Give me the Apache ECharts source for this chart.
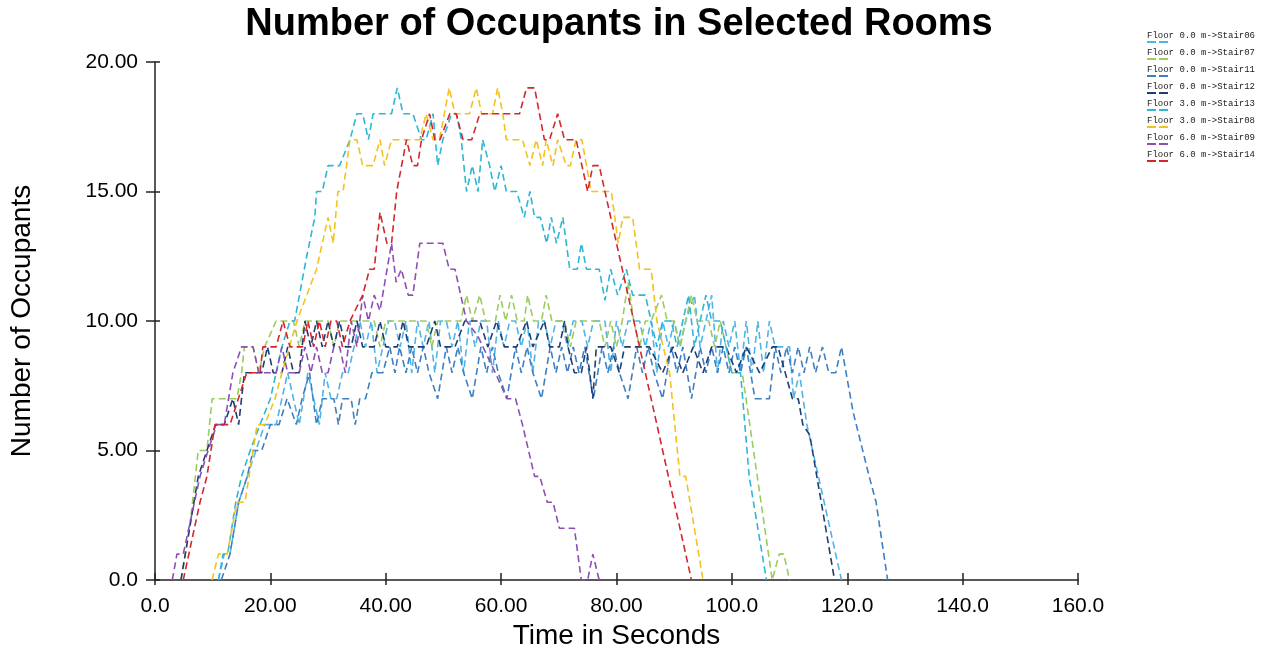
<!DOCTYPE html>
<html>
<head>
<meta charset="utf-8">
<script src="https://cdn.jsdelivr.net/npm/echarts@6/dist/echarts.min.js"></script>
<style>
html,body{margin:0;padding:0;background:#fff;}
#chart{width:1265px;height:651px;}
</style>
</head>
<body>
<div id="chart"></div>
<script>
const titleText = 'Number of Occupants in Selected Rooms';
const xAxisName = 'Time in Seconds';
const yAxisName = 'Number of Occupants';
const xTickLabels = ['0.0','20.00','40.00','60.00','80.00','100.0','120.0','140.0','160.0'];
const yTickLabels = ['0.0','5.00','10.00','15.00','20.00'];

const seriesNames = [
  'Floor 0.0 m->Stair06','Floor 0.0 m->Stair07','Floor 0.0 m->Stair11','Floor 0.0 m->Stair12',
  'Floor 3.0 m->Stair13','Floor 3.0 m->Stair08','Floor 6.0 m->Stair09','Floor 6.0 m->Stair14'
];
const seriesColors = ['#4fb4e6','#9ccb5e','#3d7fc1','#1f3d72','#2db7d6','#f4c21c','#8d4fb3','#d5262c'];

// [time (s), occupants]
const stair06 = [[11,0],[12,1],[13,1],[14.5,3],[16,4],[17.5,5],[19,6],[21,6],[22,7],[23,8],[24,7],[25,6],[26.5,8],[27.5,7],[28.5,6],[29.5,8],[30.5,7],[31.5,7],[32.5,8],[33.5,8],[34.5,9],[35.5,10],[36.5,9],[37.5,10],[38.5,8],[39.5,9],[40.5,10],[41.5,10],[42.5,9],[43.5,10],[44.5,8],[45.5,10],[46.5,9],[47.5,10],[48.5,8],[49.5,10],[50.5,10],[51.5,9],[52.5,10],[53.5,8],[54.5,10],[55.5,9],[56.5,10],[57.5,10],[58.5,8],[59.5,10],[60.5,9],[61.5,10],[62.5,10],[63.5,9],[64.5,10],[65.5,8],[66.5,10],[67.5,10],[68.5,9],[69.5,10],[70.5,10],[71.5,9],[72.5,10],[74,10],[75,9],[76,10],[78,10],[79,8],[80,10],[81,9],[82,10],[84,10],[85,9],[86,10],[87,8],[88,10],[89,9],[90,10],[91,9],[92,10],[93.5,11],[94.5,9],[95.5,10],[96.5,11],[97.5,8],[98.5,10],[99.5,9],[100.5,10],[101.5,8],[102.5,10],[103.5,8],[104.5,10],[105.5,8],[106.5,10],[107.5,9],[110,9],[110.7,7],[111.7,8],[113,6],[115,4],[117,2],[119,0]];
const stair07 = [[4.5,0],[6,2],[7.5,5],[9,5],[9.9,7],[14.2,7],[15,8],[15.5,9],[17,9],[18,8],[19,9],[21,10],[24,10],[25,9],[26,10],[30,10],[31,9],[32,10],[38,10],[39,9],[40,10],[47,10],[48,9],[49,10],[53,10],[54,11],[55,10],[56.3,11],[57.3,10],[59,10],[59.8,11],[60.8,10],[61.8,11],[62.8,10],[64,10],[64.6,11],[65.6,10],[67,10],[67.8,11],[68.8,10],[71,10],[72,9],[73,10],[77,10],[78,9],[79,10],[80,9],[81,10],[82,11.5],[83,10],[84,9],[85,10],[86,10],[87.8,11],[88.8,10],[90,10],[91,9],[92,10],[93,11],[94,10],[96,10],[97,9],[98,10],[99,9],[100,8],[101.8,8],[107,0],[108.2,1],[109,1],[110,0]];
const stair11 = [[11.5,0],[13,1],[14.5,3],[16,4],[17,5],[18.5,5],[20,6],[21.5,6],[22.9,7],[24.5,6],[25.5,7],[26.8,8],[28,6],[29,7],[31,7],[31.8,6],[32.5,7],[34,7],[34.7,6],[35.5,7],[36.5,7],[37.6,8],[39.5,8],[40.7,9],[41.6,8],[42.4,9],[43.5,8],[44.5,9],[45.5,8],[46.5,9],[47.5,8],[49,7],[50.5,9],[51.5,8],[52.5,9],[53.5,8],[55,7],[56.5,9],[57.5,8],[58.5,9],[59.5,8],[61,7],[62.5,9],[63.5,8],[64.5,9],[65.5,8],[67,7],[68.5,9],[69.5,8],[70.5,9],[71.5,8],[72.5,9],[73.5,8],[74.5,9],[76,7],[77.5,9],[78.5,8],[79.5,9],[80.5,8],[82,7],[83.5,9],[84.5,8],[85.5,9],[86.5,8],[88,7],[89.5,9],[90.5,8],[91.5,9],[93,7],[94.5,9],[95.5,8],[96.5,9],[97.5,8],[98.5,9],[99.5,8],[100.5,9],[101.5,8],[102.5,9],[104,7],[106.5,7],[107.5,9],[108.5,8],[109.5,9],[110.5,8],[111.5,9],[112.5,8],[113.5,9],[114.5,8],[115.7,9],[116.8,8],[118,8],[119,9],[121,6.5],[123.8,4],[125,3],[127,0]];
const stair12 = [[4.5,0],[6,2],[7.5,4],[9,5],[10.5,6],[12,6],[13.5,7],[14.5,6],[15.5,8],[17,8],[18.5,8],[19.5,9],[20.5,8],[22,8],[23,9],[24,8],[25,8],[26,10],[27,9],[28,10],[29,9],[30,10],[31,9],[32,10],[33,9],[34,9],[35,10],[36,9],[38,9],[39,10],[40,9],[42,9],[43,10],[44,9],[46,9],[47,9],[48.5,10],[49.5,9],[51,9],[52,9],[53.7,10],[56.3,10],[57.7,9],[59.2,10],[60.6,9],[62.7,9],[64.4,10],[65.5,9],[67.5,10],[68.4,9],[70.1,9],[71,10],[71.6,9],[72.7,8],[73.9,8],[74.8,9],[75.9,7],[76.5,9],[79,9],[80.5,8],[81.4,9],[85.7,9],[88,8],[89.8,9],[91.5,8],[93.3,9],[95,8],[96.5,9],[99,9],[100.8,8],[102.5,9],[104.8,8],[107,9],[108,9],[110.5,7],[111.5,7],[112.3,6],[113.5,5.6],[117.8,0]];
const stair13 = [[11,0],[11.8,1],[12.6,1],[14,3],[15,4],[16.5,5],[18.2,6],[20,7],[22,9],[23.4,10],[24.2,10],[26.3,12.5],[27.7,14],[28,15],[29,15],[30,16],[32,16],[33.8,17],[35,18],[36,18],[37,17],[37.8,18],[41,18],[42,19],[43,18],[44.7,18],[46.2,17],[47,17],[48.2,18],[49,16],[49.9,17],[51.4,18],[52.3,18],[53.1,17],[54,15],[55,16],[56,15],[56.8,17],[58,16],[58.9,15],[60,16],[60.9,15],[62.7,15],[64,14],[65,15],[65.8,14],[66.8,14],[67.9,13],[68.7,14],[69.6,13],[70.7,14],[71.9,12],[73.2,12],[73.9,13],[74.8,12],[77,12],[78,10.8],[79,12],[80.2,11],[81.7,12],[82.8,11],[85,11],[86,10],[87,9],[88,10],[89.5,10],[90.5,9],[91.5,10],[92.5,11],[93.5,9],[94.5,10],[95.5,11],[96.5,10],[98,10],[99,9],[100,8],[101.5,8],[103,4],[106,0]];
const stair08 = [[9.9,0],[11,1],[12.5,1],[14.2,3],[15.6,3],[17.7,6],[19,6],[20.8,7],[22,8],[24.6,10],[26.3,11],[28,12],[29,13],[30,14],[30.9,13],[31.7,15],[32.6,15],[33.8,17],[35,17],[36,16],[37.8,16],[39,17],[39.8,16],[41,17],[45.9,17],[47,18],[48.2,17],[49.3,17],[51,19],[52,18],[54.5,18],[55.7,19],[56.6,18],[58.5,18],[59.4,19],[60.3,18],[60.9,17],[63.7,17],[65,16],[66.1,17],[67.2,16],[67.8,17],[69,16],[69.8,17],[71.3,16],[72,16],[73,17],[74,17],[75.6,15],[79.1,15],[80.3,13],[81.1,14],[82.8,14],[84,12],[86,12],[87,10],[89.2,8],[91,4],[92,4],[95,0]];
const stair09 = [[3,0],[3.8,1],[4.9,1],[7.8,4],[9.2,5],[10.7,6],[12,6],[13.5,8],[15,9],[17,9],[18,8],[21,8],[22,9],[23,8],[25,8],[26,9],[27,8],[28,9],[29,8],[30,8],[31,9],[32,9],[33,8],[34,10],[35,9],[36,11],[37,10],[38,11],[39,10.4],[41,13],[41.8,11.5],[42.7,12],[43.9,11],[44.7,11],[45.9,13],[49.9,13],[51,12],[52,12],[54,10],[56,9.4],[59,8],[61,7],[62.5,7],[63.7,6],[65.8,4],[66.7,4],[68,3],[69,3],[70.1,2],[72.7,2],[73.9,0],[75,0],[75.9,1],[77,0]];
const stair14 = [[4.9,0],[7.8,3],[9,4],[10.4,6],[13,6],[15.9,8],[18.2,8],[18.7,9],[21,9],[22.2,10],[23.4,9],[25.6,9],[26.5,10],[27.5,9],[28.5,10],[29.5,9],[30.5,10],[31.5,10],[32.5,9],[33.8,10],[36,11],[37.2,12],[38,12],[39,14.2],[40.2,13],[41,13],[41.9,15],[43.6,17],[44.7,16],[45.5,16],[46.2,17],[47.6,18],[48.5,17],[49.4,17],[51.1,18],[52.2,18],[53.4,17],[54.9,17],[56.3,18],[63.2,18],[64.4,19],[65.8,19],[67.5,17],[68.4,17],[69.8,18],[71,17],[73,17],[75,15],[75.9,16],[77,16],[80,13],[93,0]];

const seriesData = [stair06, stair07, stair11, stair12, stair13, stair08, stair09, stair14];

const chart = echarts.init(document.getElementById('chart'), null, {renderer: 'canvas'});

const rich = {
  t: {fontFamily: 'Liberation Mono', fontSize: 9, color: '#222', lineHeight: 9},
  g: {width: 3, height: 2, lineHeight: 4}
};
seriesColors.forEach(function (c, i) {
  rich['d' + i] = {width: 9, height: 2, lineHeight: 4, backgroundColor: c};
});

const xLabelFmt = function (v) { return xTickLabels[Math.round(v / 20)] || ''; };
const yLabelFmt = function (v) { return yTickLabels[Math.round(v / 5)] || ''; };

const option = {
  animation: false,
  backgroundColor: '#fff',
  title: {
    text: titleText,
    left: 614,
    textAlign: 'center',
    top: 1,
    textStyle: {fontFamily: 'Liberation Sans', fontWeight: 'bold', fontSize: 38, color: '#000'}
  },
  legend: {
    orient: 'vertical',
    left: 1137,
    top: 26,
    icon: 'none',
    itemWidth: 0,
    itemHeight: 0,
    itemGap: 0,
    data: seriesNames,
    formatter: function (name) {
      const i = seriesNames.indexOf(name);
      return '{t|' + name + '}\n{d' + i + '|}{g|}{d' + i + '|}';
    },
    textStyle: {rich: rich}
  },
  grid: {left: 155, right: 187, top: 62, bottom: 71, containLabel: false, outerBoundsMode: 'none'},
  xAxis: [{
    type: 'value', min: 0, max: 160, interval: 20, position: 'bottom',
    name: xAxisName, nameLocation: 'middle', nameGap: 42,
    nameTextStyle: {fontFamily: 'Liberation Sans', fontSize: 28, color: '#000'},
    axisLine: {show: true, onZero: false, lineStyle: {color: '#222', width: 1.5}},
    axisTick: {show: true, inside: false, length: 5, lineStyle: {color: '#222', width: 1.5}},
    axisLabel: {formatter: xLabelFmt, margin: 16, fontFamily: 'Liberation Sans', fontSize: 21, color: '#000'},
    splitLine: {show: false}
  }, {
    type: 'value', min: 0, max: 160, interval: 20, position: 'bottom',
    axisLine: {show: false},
    axisTick: {show: true, inside: true, length: 7, lineStyle: {color: '#222', width: 1.5}},
    axisLabel: {show: false},
    splitLine: {show: false}
  }],
  yAxis: [{
    type: 'value', min: 0, max: 20, interval: 5, position: 'left',
    name: yAxisName, nameLocation: 'middle', nameGap: 119,
    nameTextStyle: {fontFamily: 'Liberation Sans', fontSize: 28, color: '#000'},
    axisLine: {show: true, onZero: false, lineStyle: {color: '#222', width: 1.5}},
    axisTick: {show: true, inside: false, length: 9, lineStyle: {color: '#222', width: 1.5}},
    axisLabel: {formatter: yLabelFmt, margin: 17, fontFamily: 'Liberation Sans', fontSize: 21, color: '#000'},
    splitLine: {show: false}
  }, {
    type: 'value', min: 0, max: 20, interval: 5, position: 'left',
    axisLine: {show: false},
    axisTick: {show: true, inside: true, length: 5, lineStyle: {color: '#222', width: 1.5}},
    axisLabel: {show: false},
    splitLine: {show: false}
  }],
  series: seriesNames.map(function (name, i) {
    return {
      name: name,
      type: 'line',
      xAxisIndex: 0,
      yAxisIndex: 0,
      data: seriesData[i],
      showSymbol: false,
      symbol: 'none',
      color: seriesColors[i],
      lineStyle: {color: seriesColors[i], width: 1.6, type: [7, 4]}
    };
  })
};
chart.setOption(option);
</script>
</body>
</html>
